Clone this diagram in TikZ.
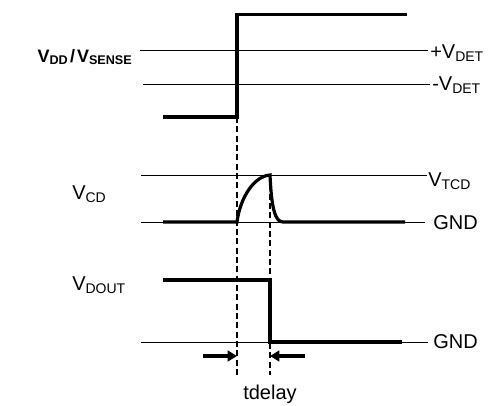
\documentclass[tikz,border=0pt]{standalone}
\usepackage{fontspec}
\setmainfont{Liberation Sans}
\usetikzlibrary{arrows.meta}
\begin{document}
\begin{tikzpicture}[x=0.75pt,y=-0.75pt,
  thin line/.style={line width=0.75pt},
  sig/.style={line width=2.4pt},
  guide/.style={line width=1.2pt,dash pattern=on 4.5pt off 2.5pt},
  marker/.style={line width=2.4pt,-{Triangle[length=7pt,width=8pt]}},
  lab/.style={inner sep=0pt,anchor=base west,font=\fontsize{15}{18}\selectfont},
  boldlab/.style={inner sep=0pt,anchor=base,font=\fontsize{13.5}{16}\selectfont\bfseries}]
\useasboundingbox (0,0) rectangle (489,405);
% threshold / reference lines
\coordinate (pd1) at (140,50.7);  \coordinate (pd2) at (428,50.7);
\coordinate (md1) at (143,84.3);  \coordinate (md2) at (430,84.3);
\coordinate (tc1) at (141,175);   \coordinate (tc2) at (427,175);
\coordinate (g1a) at (141,222);   \coordinate (g1b) at (425,222);
\coordinate (g2a) at (141,342);   \coordinate (g2b) at (428,342);
\draw[thin line] (pd1) -- (pd2);
\draw[thin line] (md1) -- (md2);
\draw[thin line] (tc1) -- (tc2);
\draw[thin line] (g1a) -- (g1b);
\draw[thin line] (g2a) -- (g2b);
% VDD / VSENSE step
\coordinate (s0) at (163,117);
\coordinate (s1) at (237,117);
\coordinate (s2) at (237,14.3);
\coordinate (s3) at (407,14.3);
\draw[sig,line join=miter] (s0) -- (s1) -- (s2) -- (s3);
% VCD pulse
\coordinate (c0) at (163,222);
\coordinate (c1) at (237,222);
\coordinate (c2) at (270,175);
\coordinate (c3) at (283,222);
\coordinate (c4) at (405,222);
\draw[sig] (c0) -- (c1) .. controls (240,198) and (254,176) .. (c2)
  .. controls (271.5,208) and (275,222) .. (c3) -- (c4);
% VDOUT
\coordinate (o0) at (163,280);
\coordinate (o1) at (270,280);
\coordinate (o2) at (270,342);
\coordinate (o3) at (402,342);
\draw[sig,line join=miter] (o0) -- (o1) -- (o2) -- (o3);
% dashed guides
\coordinate (d1t) at (237,117); \coordinate (d1b) at (237,375);
\coordinate (d2t) at (270,175); \coordinate (d2b) at (270,375);
\draw[guide] (d1t) -- (d1b);
\draw[guide] (d2t) -- (d2b);
% delay arrows
\coordinate (a1s) at (203,356); \coordinate (a1e) at (237,356);
\coordinate (a2s) at (305,356); \coordinate (a2e) at (270,356);
\draw[marker] (a1s) -- (a1e);
\draw[marker] (a2s) -- (a2e);
% labels
\node[boldlab] (lvdd) at (85,62) {V\textsubscript{DD}\kern0.1em/\kern0.1emV\textsubscript{SENSE}};
\node[lab] (lpd) at (430,58) {+V\textsubscript{DET}};
\node[lab] (lmd) at (432,90) {-V\textsubscript{DET}};
\node[lab] (lvcd) at (72,199) {V\textsubscript{CD}};
\node[lab] (ltcd) at (428,186) {V\textsubscript{TCD}};
\node[lab] (lg1) at (433,229) {GND};
\node[lab] (lvdo) at (72,290) {V\textsubscript{DOUT}};
\node[lab] (lg2) at (433,348) {GND};
\node[lab,anchor=base] (ltd) at (270,399) {tdelay};
\end{tikzpicture}
\end{document}
